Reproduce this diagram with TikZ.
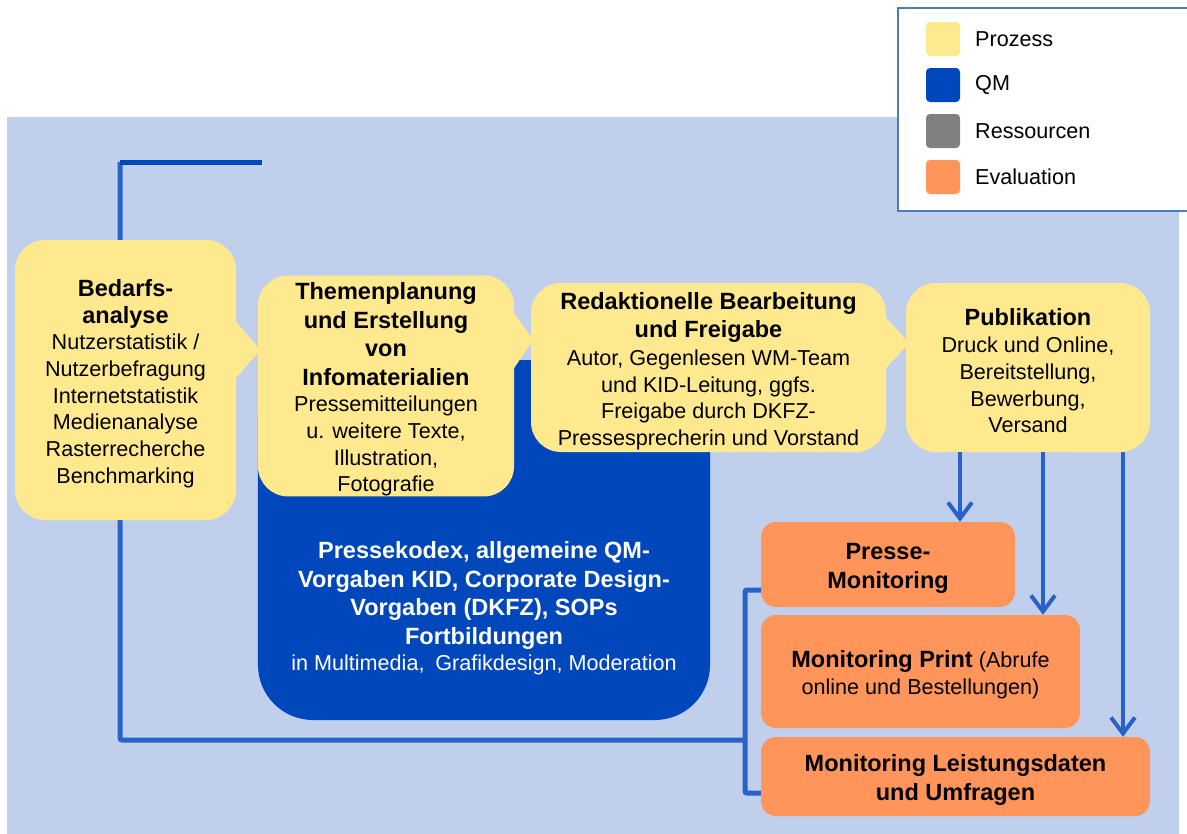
\documentclass[tikz,border=0pt]{standalone}
\usepackage{fontspec}
\setmainfont{Liberation Sans}
\usetikzlibrary{arrows.meta,calc}

\definecolor{bgblue}{RGB}{192,208,236}
\definecolor{procyellow}{RGB}{255,233,143}
\definecolor{qmblue}{RGB}{0,71,187}
\definecolor{resgray}{RGB}{128,128,128}
\definecolor{evalorange}{RGB}{255,149,90}
\definecolor{flowblue}{RGB}{40,98,200}
\definecolor{legendframe}{RGB}{79,122,192}

% body text and heading text
\newcommand\nf{\fontsize{21.6bp}{26.7bp}\selectfont}
\newcommand\tb{\fontsize{23.5bp}{28.5bp}\selectfont\bfseries}
% top strut that gives the first line of a box some headroom
\newcommand\tp{\rule{0pt}{24bp}}

\pgfdeclarelayer{back}
\pgfdeclarelayer{mid}
\pgfsetlayers{back,mid,main}

\begin{document}
\begin{tikzpicture}[x=1bp,y=-1bp,
  proc/.style={fill=procyellow, rounded corners=30bp, align=center, inner sep=0pt, font=\nf, text=black},
  qmbox/.style={fill=qmblue, rounded corners=55bp, inner sep=0pt},
  evalbox/.style={fill=evalorange, rounded corners=15bp, align=center, inner sep=0pt, font=\nf, text=black},
  swatch/.style={minimum size=34bp, inner sep=0pt, rounded corners=4bp},
  legtext/.style={anchor=west, font=\nf, inner sep=0pt},
  arr/.style={draw=flowblue, line width=4bp, -{Straight Barb[length=16bp,width=24bp]}},
  fb/.style={draw=flowblue, line width=5bp, rounded corners=2bp},
]
\useasboundingbox (0,0) rectangle (1187,834);
\clip (0,0) rectangle (1187,834);

\begin{pgfonlayer}{back}
  \fill[bgblue] (7,117) rectangle (1179,834);
\end{pgfonlayer}

% quality management area behind the process chain
\node[qmbox, minimum width=452bp, minimum height=360bp] (qm) at (484,540) {};

% process chain
\node[proc, minimum width=221bp, minimum height=280bp] (bed) at (125.5,380)
  {\tp{\tb Bedarfs-}\\{\tb analyse}\\Nutzerstatistik /\\Nutzerbefragung\\Internetstatistik\\Medienanalyse\\Rasterrecherche\\Benchmarking};
\node[proc, minimum width=256bp, minimum height=216bp] (them) at (386,386)
  {\tp{\tb Themenplanung}\\[1.8bp]{\tb und Erstellung}\\[1.8bp]{\tb von}\\[1.8bp]{\tb Infomaterialien}\\Pressemitteilungen\\u. weitere Texte,\\Illustration,\\Fotografie};
\node[proc, minimum width=355bp, minimum height=169bp] (red) at (708.5,367.5)
  {\tp{\tb Redaktionelle Bearbeitung}\\[1.5bp]{\tb und Freigabe}\\[1.3bp]Autor, Gegenlesen WM-Team\\und KID-Leitung, ggfs.\\Freigabe durch DKFZ-\\Pressesprecherin und Vorstand};
\node[proc, minimum width=244bp, minimum height=169bp] (pub) at (1028,367.5)
  {\tp{\tb Publikation}\\Druck und Online,\\Bereitstellung,\\Bewerbung,\\Versand};

% speech-bubble pointers between the process steps
\fill[procyellow] ($(bed.east)+(0,-58)$) -- ($(bed.east)+(24,-30)$) -- ($(bed.east)+(0,-2)$) -- cycle;
\fill[procyellow] ($(them.east)+(0,-73)$) -- ($(them.east)+(19,-46)$) -- ($(them.east)+(0,-18)$) -- cycle;
\fill[procyellow] ($(red.east)+(0,-49.5)$) -- ($(red.east)+(23,-24.5)$) -- ($(red.east)+(0,0.5)$) -- cycle;

% quality management text
\node[align=center, inner sep=0pt, font=\nf, text=white] (qmtext) at (484,605)
  {\tp{\tb Pressekodex, allgemeine QM-}\\[1.8bp]{\tb Vorgaben KID, Corporate Design-}\\[1.8bp]{\tb Vorgaben (DKFZ), SOPs}\\[1.8bp]{\tb Fortbildungen}\\in Multimedia,\hspace{0.5em}Grafikdesign, Moderation};

% evaluation
\node[evalbox, minimum width=254bp, minimum height=85bp] (presse) at (888,564.5)
  {\tp{\tb Presse-}\\[1.5bp]{\tb Monitoring}};
\node[evalbox, minimum width=319bp, minimum height=113bp] (print) at (920.5,671.5)
  {\tp{\tb Monitoring Print} (Abrufe\\online und Bestellungen)};
\node[evalbox, minimum width=389bp, minimum height=79bp] (leist) at (955.5,776.5)
  {\tp{\tb Monitoring Leistungsdaten}\\[1.5bp]{\tb und Umfragen}};

% publication feeds the monitoring steps
\draw[arr] ([xshift=-68bp]pub.south) -- ([xshift=-68bp]pub.south |- presse.north);
\draw[arr] ([xshift=15bp]pub.south) -- ([xshift=15bp]pub.south |- print.north);
\draw[arr] ([xshift=95bp]pub.south) -- ([xshift=95bp]pub.south |- leist.north);

% feedback loop from evaluation back to the needs analysis
\coordinate (fbbar) at (745,740);
\coordinate (fbturn) at (120,162);
\coordinate (fbend) at (262,162);
\begin{pgfonlayer}{mid}
  \draw[fb] ([yshift=-25.5bp]presse.west) -| (fbbar) |- ([yshift=-16.5bp]leist.west);
  \draw[fb] (fbbar) -- (fbbar -| fbturn) -- (fbturn);
  \draw[fb, draw=qmblue, rounded corners=0pt] (fbturn) -- (fbend);
\end{pgfonlayer}

% legend
\node[draw=legendframe, line width=1.5bp, fill=white, minimum width=294bp, minimum height=203bp, inner sep=0pt] (legend) at (1045,109.5) {};
\node[swatch, fill=procyellow] (swproc) at (943,39) {};
\node[swatch, fill=qmblue] (swqm) at (943,85) {};
\node[swatch, fill=resgray] (swres) at (943,131) {};
\node[swatch, fill=evalorange] (sweval) at (943,177) {};
\node[legtext] (lgproc) at (975,39) {Prozess};
\node[legtext] (lgqm) at (975,85) {QM};
\node[legtext] (lgres) at (975,131) {Ressourcen};
\node[legtext] (lgeval) at (975,177) {Evaluation};
\end{tikzpicture}
\end{document}
